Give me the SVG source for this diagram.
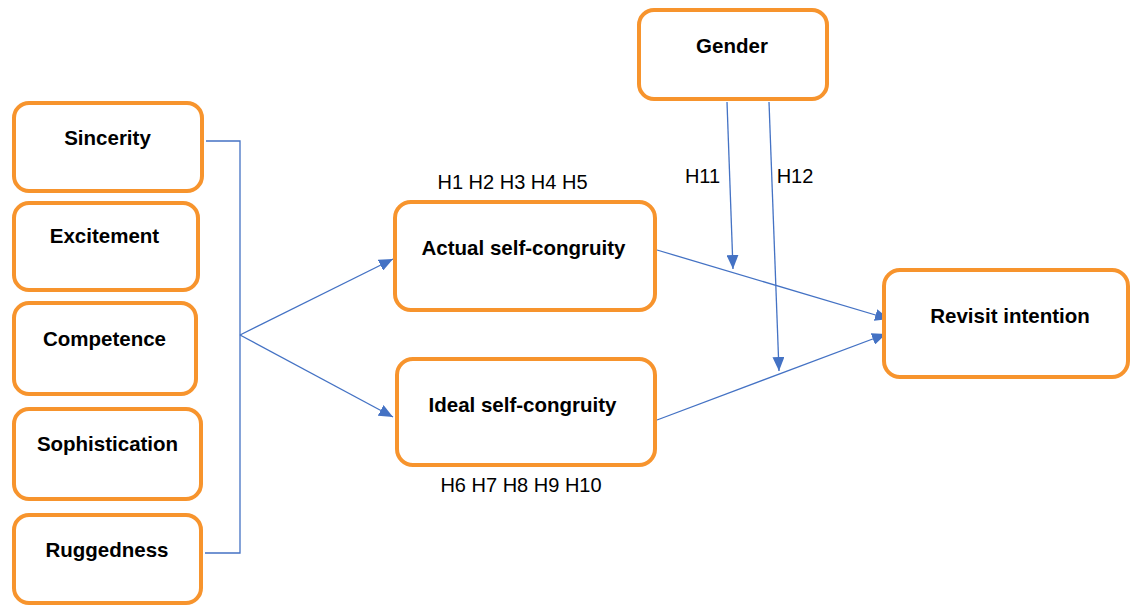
<svg xmlns="http://www.w3.org/2000/svg" width="1131" height="605" viewBox="0 0 1131 605">
<style>
.box{fill:#fff;stroke:#F7942D;stroke-width:4}
.lbl{font-family:"Liberation Sans",Arial,sans-serif;font-weight:bold;font-size:20.5px;fill:#000;text-anchor:middle}
.h{font-family:"Liberation Sans",Arial,sans-serif;font-size:20px;fill:#000;text-anchor:middle}
.c{fill:none;stroke:#4472C4;stroke-width:1.3}
</style>
<defs>
<marker id="ah" markerUnits="userSpaceOnUse" markerWidth="14" markerHeight="12" viewBox="0 0 14 12" refX="14" refY="6" orient="auto">
<path d="M0,0 L14,6 L0,12 z" fill="#4472C4"/>
</marker>
</defs>
<rect width="1131" height="605" fill="#fff"/>
<g id="connectors">
<polyline class="c" points="206,141 240,141 240,553 205,553"/>
<line class="c" x1="240" y1="335" x2="393" y2="259" marker-end="url(#ah)"/>
<line class="c" x1="240" y1="335" x2="393" y2="417" marker-end="url(#ah)"/>
<line class="c" x1="657" y1="250" x2="889" y2="319" marker-end="url(#ah)"/>
<line class="c" x1="657" y1="420" x2="886" y2="334" marker-end="url(#ah)"/>
<line class="c" x1="727" y1="102" x2="733" y2="269" marker-end="url(#ah)"/>
<line class="c" x1="769" y1="102" x2="779" y2="371" marker-end="url(#ah)"/>
</g>
<g id="sincerity"><rect class="box" x="14" y="103" width="188" height="88" rx="15"/><text class="lbl" x="107.5" y="145">Sincerity</text></g>
<g id="excitement"><rect class="box" x="14" y="203" width="184" height="87" rx="15"/><text class="lbl" x="104.5" y="243">Excitement</text></g>
<g id="competence"><rect class="box" x="14" y="303" width="182" height="91" rx="15"/><text class="lbl" x="104.5" y="346">Competence</text></g>
<g id="sophistication"><rect class="box" x="14" y="409" width="187" height="90" rx="15"/><text class="lbl" x="107.5" y="451">Sophistication</text></g>
<g id="ruggedness"><rect class="box" x="14" y="515" width="187" height="88" rx="15"/><text class="lbl" x="107" y="557">Ruggedness</text></g>
<g id="actual"><rect class="box" x="395" y="202" width="260" height="108" rx="16"/><text class="lbl" x="523.5" y="255">Actual self-congruity</text></g>
<g id="ideal"><rect class="box" x="397" y="359" width="258" height="106" rx="16"/><text class="lbl" x="522.5" y="412">Ideal self-congruity</text></g>
<g id="gender"><rect class="box" x="639" y="10" width="188" height="89" rx="15"/><text class="lbl" x="732" y="53">Gender</text></g>
<g id="revisit"><rect class="box" x="884" y="270" width="244" height="107" rx="16"/><text class="lbl" x="1010" y="323">Revisit intention</text></g>
<g id="labels">
<text class="h" x="512.5" y="189">H1 H2 H3 H4 H5</text>
<text class="h" x="521" y="492">H6 H7 H8 H9 H10</text>
<text class="h" x="702.5" y="183">H11</text>
<text class="h" x="795" y="183">H12</text>
</g>
</svg>
